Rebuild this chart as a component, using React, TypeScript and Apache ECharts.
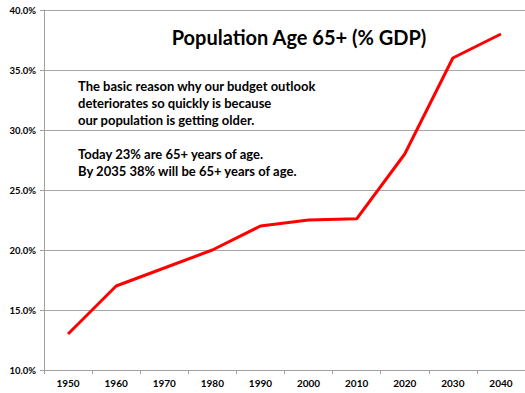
import React, { useEffect, useRef } from "react";
import * as echarts from "echarts";

const years = ["1950", "1960", "1970", "1980", "1990", "2000", "2010", "2020", "2030", "2040"];
const share = [13.0, 17.0, 18.5, 20.0, 22.0, 22.5, 22.6, 28.0, 36.0, 38.0];
const titleText = "Population Age 65+ (% GDP)";
const noteLines = [
  "The basic reason why our budget outlook",
  "deteriorates so quickly is because",
  "our population is getting older.",
  "",
  "Today 23% are 65+ years of age.",
  "By 2035 38% will be 65+ years of age.",
];

export default function App() {
  const ref = useRef<HTMLDivElement>(null);
  useEffect(() => {
    if (!ref.current) return;
    const chart = echarts.init(ref.current, null, { renderer: "svg" });
    const font = "Lato, 'Open Sans', sans-serif";
    chart.setOption({
      animation: false,
      backgroundColor: "#ffffff",
      title: {
        text: titleText,
        left: 294,
        top: 22,
        textAlign: "center",
        textStyle: { fontFamily: font, fontSize: 20, fontWeight: "bold", color: "#000" },
      },
      graphic: [
        {
          type: "text",
          left: 78,
          top: 77,
          style: {
            text: noteLines.join("\n"),
            fontFamily: font,
            fontSize: 13,
            fontWeight: "bold",
            lineHeight: 17,
            fill: "#000",
          },
        },
      ],
      grid: { left: 44, right: -2, top: 10, bottom: 23, containLabel: false },
      xAxis: {
        type: "category",
        data: years,
        boundaryGap: true,
        axisLine: { lineStyle: { color: "#a0a0a0", width: 1 } },
        axisTick: { show: true, length: 4, lineStyle: { color: "#a0a0a0" } },
        axisLabel: { fontFamily: font, fontSize: 10, fontWeight: "bold", color: "#000", margin: 8 },
      },
      yAxis: {
        type: "value",
        min: 10,
        max: 40,
        interval: 5,
        axisLine: { show: true, lineStyle: { color: "#a0a0a0", width: 1 } },
        axisTick: { show: true, length: 4, lineStyle: { color: "#a0a0a0" } },
        axisLabel: {
          fontFamily: font,
          fontSize: 9.5,
          fontWeight: "bold",
          color: "#000",
          margin: 8,
          formatter: (v: number) => v.toFixed(1) + "%",
        },
        splitLine: { show: true, lineStyle: { color: "#a6a6a6", width: 1 } },
      },
      series: [
        {
          type: "line",
          data: share,
          symbol: "none",
          lineStyle: { color: "#ff0000", width: 3 },
          itemStyle: { color: "#ff0000" },
        },
      ],
    });
    return () => chart.dispose();
  }, []);
  return <div ref={ref} style={{ width: 525, height: 393, position: "absolute", left: 0, top: 0 }} />;
}
